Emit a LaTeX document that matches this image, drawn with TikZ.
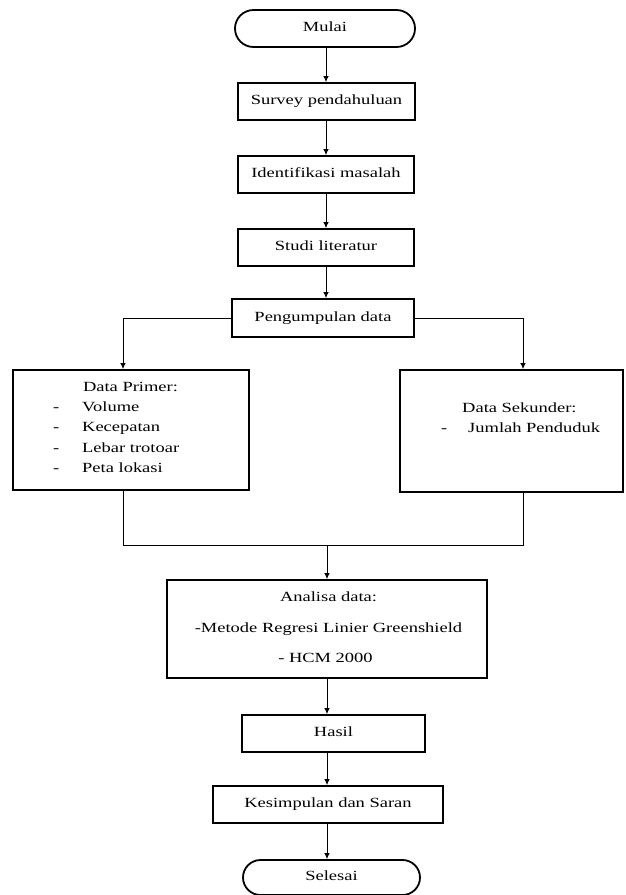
\documentclass[tikz,border=0pt]{standalone}
\usepackage{fontspec}
\setmainfont{Liberation Serif}[FakeStretch=1.32]
\usetikzlibrary{arrows.meta,shapes.misc}
\begin{document}
\begin{tikzpicture}[x=1pt,y=-1pt,
  fnt/.style={font=\fontsize{14}{17}\selectfont},
  box/.style={fnt, draw, line width=1.8pt, rectangle, inner sep=0pt, text height=9.5pt, text depth=3pt},
  term/.style={fnt, draw, line width=1.8pt, rounded rectangle, inner sep=0pt, text height=9.5pt, text depth=3pt},
  txt/.style={fnt, inner sep=0pt, anchor=base west},
  ctxt/.style={fnt, inner sep=0pt, anchor=base},
  ln/.style={line width=0.9pt},
  arr/.style={line width=0.9pt, -{Latex[length=6pt,width=5.5pt]}}]
\useasboundingbox (0,0) rectangle (625,895);
\fill[white] (0,0) rectangle (625,895);
% nodes
\node[term, minimum width=180pt, minimum height=37pt] (mulai) at (325,28.5) {Mulai};
\node[box, minimum width=177pt, minimum height=37pt] (survey) at (326.5,101.5) {Survey pendahuluan};
\node[box, minimum width=176pt, minimum height=37pt] (ident) at (326,174.5) {Identifikasi masalah};
\node[box, minimum width=176pt, minimum height=37pt] (studi) at (326,247.5) {Studi literatur};
\node[box, minimum width=182pt, minimum height=38pt] (peng) at (323,318) {Pengumpulan data};
\node[box, minimum width=236pt, minimum height=120pt] (prim) at (131,430) {};
\node[box, minimum width=223pt, minimum height=122pt] (sek) at (511.5,431) {};
\node[box, minimum width=320pt, minimum height=98pt] (ana) at (327,629) {};
\node[box, minimum width=183pt, minimum height=37pt] (hasil) at (333.5,733.5) {Hasil};
\node[box, minimum width=230pt, minimum height=37pt] (kes) at (328,804.5) {Kesimpulan dan Saran};
\node[term, minimum width=177pt, minimum height=35pt] (sel) at (331.5,877.5) {Selesai};
% texts in Data Primer
\node[ctxt] (ptitle) at (130.5,391.5) {Data Primer:};
\node[txt] (pd1) at (53,411) {-};
\node[txt] (pd2) at (53,431.5) {-};
\node[txt] (pd3) at (53,452) {-};
\node[txt] (pd4) at (53,472.5) {-};
\node[txt] (pi1) at (82,411) {Volume};
\node[txt] (pi2) at (82,431.5) {Kecepatan};
\node[txt] (pi3) at (82,452) {Lebar trotoar};
\node[txt] (pi4) at (82,472.5) {Peta lokasi};
% texts in Data Sekunder
\node[txt] (stitle) at (462,412.5) {Data Sekunder:};
\node[txt] (sd1) at (441,432.5) {-};
\node[txt] (si1) at (468,432.5) {Jumlah Penduduk};
% texts in Analisa
\node[ctxt] (a1) at (328.5,601.6) {Analisa data:};
\node[ctxt] (a2) at (328.5,632.6) {-Metode Regresi Linier Greenshield};
\node[ctxt] (a3) at (325.5,662.6) {- HCM 2000};
% axis coordinates
\coordinate (axU) at (326,0);
\coordinate (axL) at (327,0);
\coordinate (pL) at (123,0);
\coordinate (pR) at (523,0);
\coordinate (join) at (327,545);
% connectors
\draw[arr] (mulai.south -| axU) -- (survey.north -| axU);
\draw[arr] (survey.south -| axU) -- (ident.north -| axU);
\draw[arr] (ident.south -| axU) -- (studi.north -| axU);
\draw[arr] (studi.south -| axU) -- (peng.north -| axU);
\draw[arr] (peng.west) -| (prim.north -| pL);
\draw[arr] (peng.east) -| (sek.north -| pR);
\draw[ln] (prim.south -| pL) -- (pL |- join) -- (pR |- join) -- (sek.south -| pR);
\draw[arr] (join) -- (ana.north -| join);
\draw[arr] (ana.south -| axL) -- (hasil.north -| axL);
\draw[arr] (hasil.south -| axL) -- (kes.north -| axL);
\draw[arr] (kes.south -| axL) -- (sel.north -| axL);
\end{tikzpicture}
\end{document}
